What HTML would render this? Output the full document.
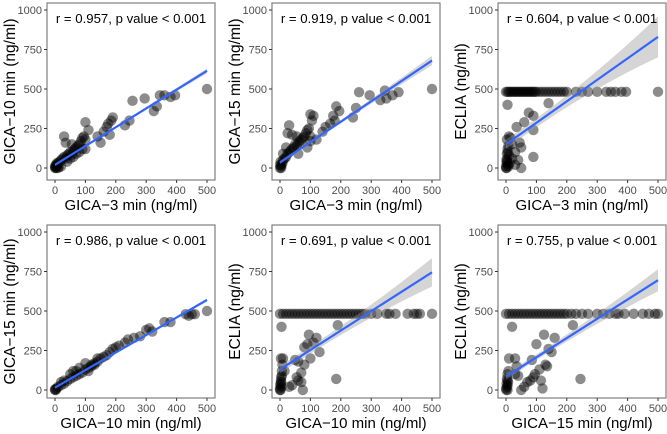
<!DOCTYPE html>
<html><head><meta charset="utf-8"><style>
html,body{margin:0;padding:0;background:#fff;}
svg{display:block;font-family:"Liberation Sans",Arial,sans-serif;}
</style></head><body>
<svg id="fig" width="667" height="434" viewBox="0 0 667 434"></svg>
<script>
// ---- data ----
const panelTitles = ["r = 0.957, p value < 0.001","r = 0.919, p value < 0.001","r = 0.604, p value < 0.001","r = 0.986, p value < 0.001","r = 0.691, p value < 0.001","r = 0.755, p value < 0.001"];
const xLabels = ["GICA\u22123 min (ng/ml)","GICA\u22123 min (ng/ml)","GICA\u22123 min (ng/ml)","GICA\u221210 min (ng/ml)","GICA\u221210 min (ng/ml)","GICA\u221215 min (ng/ml)"];
const yLabels = ["GICA\u221210 min (ng/ml)","GICA\u221215 min (ng/ml)","ECLIA (ng/ml)","GICA\u221215 min (ng/ml)","ECLIA (ng/ml)","ECLIA (ng/ml)"];
const xTicks = [0,100,200,300,400,500];
const yTicks = [0,250,500,750,1000];
const intercepts = [20,35,150,15,130,85];
const endValues = [615,680,830,570,745,695];
const ciAt0 = [8,10,30,5,25,20];
const ciAt500 = [15,30,130,10,90,70];

const p1x=[0,2,5,3,8,10,15,20,25,30,35,40,45,50,55,60,65,70,75,80,85,90,95,100,90,100,110,30,35,55,60,70,140,150,160,170,180,185,190,175,230,245,255,295,325,335,345,360,380,395,500,10,20,40,50,80,100,0,3,6,12];
const p1y=[0,5,10,20,15,30,40,50,60,70,60,80,90,100,85,110,120,130,140,150,170,190,200,180,120,290,240,200,160,150,70,90,200,160,230,260,210,300,320,280,270,300,425,440,360,390,460,460,450,460,500,0,10,40,60,100,120,10,0,30,5];
const p2x=[0,3,5,8,10,15,20,25,30,35,40,45,50,55,60,65,70,75,80,85,90,95,100,90,100,105,110,30,25,40,55,60,140,150,165,175,180,185,195,240,250,260,295,330,345,350,370,390,500,100,120,10,20,0,4,2];
const p2y=[0,10,20,30,50,60,70,90,100,110,120,130,150,140,160,170,180,190,200,220,240,250,200,130,340,300,330,270,220,210,200,90,230,260,280,330,300,390,360,320,380,480,460,430,490,440,460,480,500,170,180,90,130,20,0,40];
const p3x=[0,5,10,15,20,25,30,35,40,45,50,55,60,65,70,75,80,85,90,95,100,110,120,130,140,150,160,170,180,190,200,230,250,270,300,330,345,360,380,395,500,0,2,4,6,8,3,5,10,15,20,30,35,40,45,50,50,60,75,90,90,90,140,30,20,10,0,1,3,5,7,2,4,8,12];
const p3y=[482,482,482,482,482,482,482,482,482,482,482,482,482,482,482,482,482,482,482,482,482,482,482,482,482,482,482,482,482,482,482,482,482,482,482,482,482,482,482,482,482,0,30,60,100,140,180,400,200,190,150,100,260,50,160,130,0,290,350,330,70,240,410,20,60,80,10,50,90,120,20,0,40,10,30];
const p4x=[0,5,10,20,30,40,50,60,70,80,90,100,110,120,130,140,150,160,170,180,190,200,210,230,240,260,280,300,310,320,360,380,430,440,450,460,500,60,80,110,120,140,20,30,50,70,100,130,0,3];
const p4y=[0,10,20,30,40,55,70,80,90,100,110,130,140,160,170,180,200,210,220,240,260,270,280,300,320,330,340,380,390,370,430,430,480,470,480,480,500,120,140,120,150,200,50,60,100,120,170,160,5,0];
const p5x=[0,10,20,30,40,50,60,70,80,90,100,110,120,130,140,150,160,170,180,190,200,210,220,230,240,250,260,270,280,300,320,350,360,380,420,440,450,460,500,0,2,4,6,8,3,5,10,15,30,40,50,55,60,70,75,80,80,90,95,100,110,120,130,190,185,60,70,0,1,3,5,2,4,6];
const p5y=[482,482,482,482,482,482,482,482,482,482,482,482,482,482,482,482,482,482,482,482,482,482,482,482,482,482,482,482,482,482,482,482,482,482,482,482,482,482,482,0,40,80,120,160,200,400,200,120,20,30,190,80,60,110,0,160,270,290,350,200,300,330,240,410,70,180,50,10,30,60,20,0,50,90];
const p6x=[0,10,20,30,40,50,60,70,80,90,100,110,120,130,140,150,160,170,180,190,200,215,230,250,270,300,320,340,360,370,390,420,450,470,490,500,5,5,5,5,8,20,10,30,35,40,50,60,70,80,85,90,95,100,110,115,120,125,130,135,140,150,160,220,245,30,0,2,4,1,3,7];
const p6y=[482,482,482,482,482,482,482,482,482,482,482,482,482,482,482,482,482,482,482,482,482,482,482,482,482,482,482,482,482,482,482,482,482,482,482,482,0,30,60,100,120,400,200,200,150,90,0,20,50,60,190,80,100,290,130,60,10,350,160,150,260,240,330,410,70,100,10,40,20,0,70,50];
const xsAll=[p1x,p2x,p3x,p4x,p5x,p6x];
const ysAll=[p1y,p2y,p3y,p4y,p5y,p6y];

// ---- layout ----
const NS="http://www.w3.org/2000/svg";
const svg=document.getElementById("fig");
const lefts=[47,272,498];
const tops=[3,225];
const boxW=168, boxH=[177,173];
function mk(tag,attrs,parent){const e=document.createElementNS(NS,tag);for(const k in attrs)e.setAttribute(k,attrs[k]);(parent||svg).appendChild(e);return e;}

for(let i=0;i<6;i++){
  const col=i%3,row=Math.floor(i/3);
  const L=lefts[col],T=tops[row],H=boxH[row];
  const x0=L+8,x500=L+160;
  const y0=row==0?168:390, y1000=row==0?10:232;
  const sx=v=>x0+(x500-x0)*v/500;
  const sy=v=>y0+(y1000-y0)*v/1000;
  const g=mk("g",{});
  
  
  const xs=xsAll[i],ys=ysAll[i];
  for(let j=0;j<xs.length;j++){
    const c=mk("circle",{cx:sx(xs[j]),cy:sy(ys[j]),r:5.2,fill:"rgba(0,0,0,0.45)"},g);
    
    
  }
  const a=intercepts[i],b=(endValues[i]-a)/500;
  const ci=x=>{const t=x/500;return ciAt0[i]*(1-t)*(1-t)+ciAt500[i]*t*t+Math.min(ciAt0[i],ciAt500[i])*0.8*t*(1-t);};
  let up=[],lo=[];
  for(let x=0;x<=500;x+=10){up.push(sx(x)+","+sy(a+b*x+ci(x)));lo.unshift(sx(x)+","+sy(a+b*x-ci(x)));}
  const band=mk("polygon",{points:up.concat(lo).join(" "),fill:"rgba(150,150,150,0.4)"},g);
  
  
  const ln=mk("line",{x1:sx(0),y1:sy(a),x2:sx(500),y2:sy(endValues[i]),stroke:"#3366ff","stroke-width":2.2},g);
  
  
  const bx=mk("rect",{x:L,y:T,width:boxW,height:H,fill:"none",stroke:"#7f7f7f","stroke-width":1.2},g);
  
  
  xTicks.forEach(v=>{
    mk("line",{x1:sx(v),x2:sx(v),y1:T+H,y2:T+H+3,stroke:"#333"},g);
    const t=mk("text",{x:sx(v),y:T+H+14,"text-anchor":"middle","font-size":11,fill:"#4d4d4d"},g);
    t.textContent=v;
    
    
  });
  yTicks.forEach(v=>{
    mk("line",{x1:L-3,x2:L,y1:sy(v),y2:sy(v),stroke:"#333"},g);
    const t=mk("text",{x:L-5,y:sy(v)+4,"text-anchor":"end","font-size":11,fill:"#4d4d4d"},g);
    t.textContent=v;
    
    
  });
  const ann=mk("text",{x:L+boxW/2,y:T+20,"text-anchor":"middle","font-size":13.2,fill:"#000"},g);
  ann.textContent=panelTitles[i];
  
  
  const xt=mk("text",{x:L+boxW/2,y:T+H+30,"text-anchor":"middle","font-size":15,fill:"#000"},g);
  xt.textContent=xLabels[i];
  
  
  const yx=L-32, yc=T+H/2;
  const yt=mk("text",{x:yx,y:yc,"text-anchor":"middle","font-size":15.5,fill:"#000",transform:"rotate(-90 "+yx+" "+yc+")"},g);
  yt.textContent=yLabels[i];
  
  
}
</script>
</body></html>
